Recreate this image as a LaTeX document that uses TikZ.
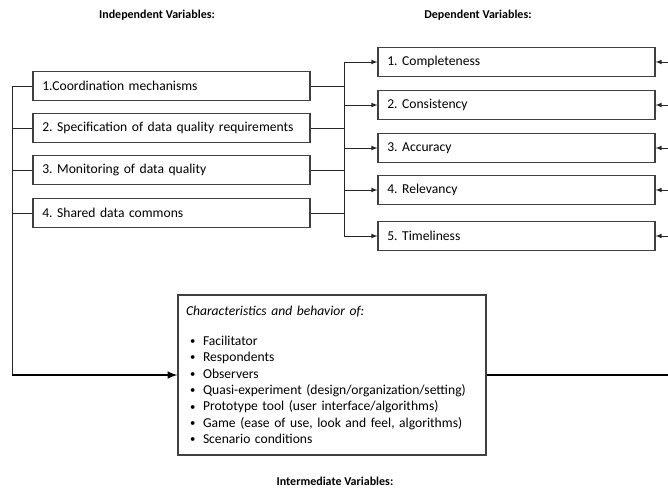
\documentclass[tikz,border=0pt]{standalone}
\usepackage[dvipsnames]{xcolor}
\usepackage{fontspec}
\setmainfont{Carlito}
\usepackage{tikz}
\usetikzlibrary{positioning}
\frenchspacing

\newcommand{\boxfont}{\fontsize{10.2}{12.3}\selectfont}
\newcommand{\headfont}{\fontsize{9}{10.8}\selectfont\bfseries}
\newcommand{\itembullet}{\makebox[12.75pt][l]{\hspace{3pt}\raisebox{0.6pt}{\fontsize{8}{8}\selectfont\textbullet}}}

\tikzset{
  varbox/.style={draw=black!75, line width=0.8pt, minimum width=207.75pt,
    minimum height=22pt, text width=193.75pt, inner xsep=7pt,
    align=left, font=\boxfont},
  headtext/.style={font=\headfont},
  link/.style={draw=black!85, line width=0.6pt},
  flow/.style={draw=black, line width=1.5pt}
}

\begin{document}
\begin{tikzpicture}[x=0.75pt,y=-0.75pt]
\useasboundingbox (0,0) rectangle (668,490);
% headings
\node[headtext] (indhead) at (157,15) {Independent Variables:};
\node[headtext] (dephead) at (478,15) {Dependent Variables:};
\node[headtext] (inthead) at (335,481) {Intermediate Variables:};
% independent variables
\node[varbox] (iv1) at (171.5,86) {1.Coordination mechanisms};
\node[varbox] (iv2) at (171.5,128) {2. Specification of data quality requirements};
\node[varbox] (iv3) at (171.5,170) {3. Monitoring of data quality};
\node[varbox] (iv4) at (171.5,213) {4. Shared data commons};
% dependent variables
\node[varbox] (dv1) at (516.5,62) {1. Completeness};
\node[varbox] (dv2) at (516.5,105) {2. Consistency};
\node[varbox] (dv3) at (516.5,148) {3. Accuracy};
\node[varbox] (dv4) at (516.5,190) {4. Relevancy};
\node[varbox] (dv5) at (516.5,236) {5. Timeliness};
% intermediate variables
\node[varbox, minimum width=231pt, text width=219pt, inner xsep=6pt,
  minimum height=120pt] (inter) at (332,375)
{\textit{Characteristics and behavior of:}\\[10pt]
\itembullet Facilitator\\
\itembullet Respondents\\
\itembullet Observers\\
\itembullet Quasi-experiment (design/organization/setting)\\
\itembullet Prototype tool (user interface/algorithms)\\
\itembullet Game (ease of use, look and feel, algorithms)\\
\itembullet Scenario conditions};
% bus lines
\coordinate (lbus) at (12,86);
\coordinate (rbus) at (344,62);
\coordinate (redge) at (668,62);
\draw[link] (iv1.west) -- (iv1.west -| lbus) -- (inter.west -| lbus);
\draw[link] (iv2.west) -- (iv2.west -| lbus);
\draw[link] (iv3.west) -- (iv3.west -| lbus);
\draw[link] (iv4.west) -- (iv4.west -| lbus);
\draw[flow,-latex] (inter.west -| lbus) -- (inter.west);
\draw[flow] (inter.east) -- (inter.east -| redge);
\draw[link] (iv1.east) -- (iv1.east -| rbus);
\draw[link] (iv2.east) -- (iv2.east -| rbus);
\draw[link] (iv3.east) -- (iv3.east -| rbus);
\draw[link] (iv4.east) -- (iv4.east -| rbus);
\draw[link] (dv1.west -| rbus) -- (dv5.west -| rbus);
\draw[link,-latex] (dv1.west -| rbus) -- (dv1.west);
\draw[link,-latex] (dv2.west -| rbus) -- (dv2.west);
\draw[link,-latex] (dv3.west -| rbus) -- (dv3.west);
\draw[link,-latex] (dv4.west -| rbus) -- (dv4.west);
\draw[link,-latex] (dv5.west -| rbus) -- (dv5.west);
\draw[link,-latex] (dv1.east -| redge) -- (dv1.east);
\draw[link,-latex] (dv2.east -| redge) -- (dv2.east);
\draw[link,-latex] (dv3.east -| redge) -- (dv3.east);
\draw[link,-latex] (dv4.east -| redge) -- (dv4.east);
\draw[link,-latex] (dv5.east -| redge) -- (dv5.east);
\end{tikzpicture}
\end{document}
